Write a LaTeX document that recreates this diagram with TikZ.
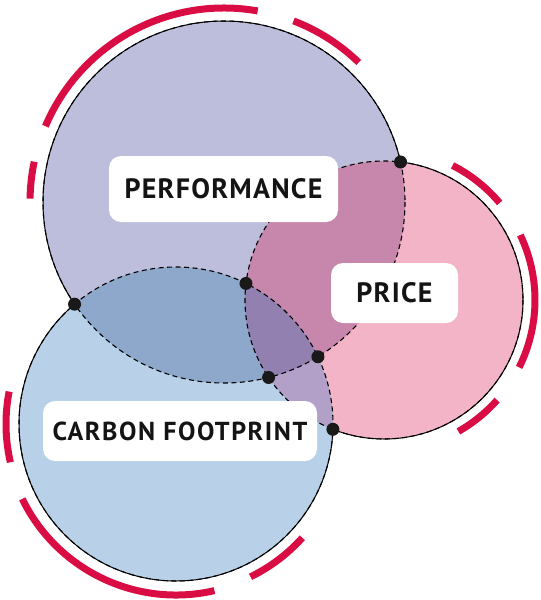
\documentclass[tikz,border=0pt]{standalone}
\usepackage{fontspec}
\setmainfont{PT Sans}
\usetikzlibrary{intersections}
\definecolor{cP}{RGB}{189,190,219}
\definecolor{cR}{RGB}{243,180,199}
\definecolor{cC}{RGB}{185,209,232}
\definecolor{cPR}{RGB}{199,134,171}
\definecolor{cPC}{RGB}{142,168,204}
\definecolor{cRC}{RGB}{178,160,200}
\definecolor{cPRC}{RGB}{145,128,176}
\definecolor{cred}{RGB}{218,12,68}
\definecolor{ctext}{RGB}{20,20,20}
\tikzset{
  labelbox/.style={fill=white, rounded corners=12pt, inner sep=0pt, text=ctext, font=\bfseries\fontsize{28}{28}\selectfont\addfontfeature{LetterSpace=4.5}},
  outline/.style={line width=1pt, black},
  inner/.style={line width=1.1pt, black, dash pattern=on 5pt off 3.5pt},
  redarc/.style={line width=7pt, cred},
  dot/.style={fill=black!90}
}
\def\Pc{(224,202) circle (181)}
\def\Rc{(384,300) circle (139)}
\def\Cc{(176,424) circle (157)}
\begin{document}
\begin{tikzpicture}[x=1pt,y=-1pt]
\useasboundingbox (0,0) rectangle (541,600);
% base fills
\fill[cP] \Pc;
\fill[cR] \Rc;
\fill[cC] \Cc;
\begin{scope}\clip \Pc; \fill[cPR] \Rc; \end{scope}
\begin{scope}\clip \Pc; \fill[cPC] \Cc; \end{scope}
\begin{scope}\clip \Rc; \fill[cRC] \Cc; \end{scope}
\begin{scope}\clip \Pc; \clip \Rc; \fill[cPRC] \Cc; \end{scope}
% dashed inner outlines
\draw[inner, name path=P] \Pc;
\draw[inner, name path=R] \Rc;
\draw[inner, name path=C] \Cc;
% solid outer outlines
\begin{scope}[even odd rule]
  \clip (-10,-10) rectangle (560,620) \Rc;
  \clip (-10,-10) rectangle (560,620) \Cc;
  \draw[outline] \Pc;
\end{scope}
\begin{scope}[even odd rule]
  \clip (-10,-10) rectangle (560,620) \Pc;
  \clip (-10,-10) rectangle (560,620) \Cc;
  \draw[outline] \Rc;
\end{scope}
\begin{scope}[even odd rule]
  \clip (-10,-10) rectangle (560,620) \Pc;
  \clip (-10,-10) rectangle (560,620) \Rc;
  \draw[outline] \Cc;
\end{scope}
% red arcs
\draw[redarc] (224,202) ++(-80:194) arc[start angle=-80, end angle=-157, radius=194];
\draw[redarc] (224,202) ++(-69:194) arc[start angle=-69, end angle=-46, radius=194];
\draw[redarc] (224,202) ++(-168:194) arc[start angle=-168, end angle=-179, radius=194];
\draw[redarc] (384,300) ++(-63:151) arc[start angle=-63, end angle=-40, radius=151];
\draw[redarc] (384,300) ++(-25.5:151) arc[start angle=-25.5, end angle=26.5, radius=151];
\draw[redarc] (384,300) ++(41.5:151) arc[start angle=41.5, end angle=60.5, radius=151];
\draw[redarc] (176,424) ++(167:170) arc[start angle=167, end angle=191, radius=170];
\draw[redarc] (176,424) ++(77:171) arc[start angle=77, end angle=154, radius=171];
\draw[redarc] (176,424) ++(42:170) arc[start angle=42, end angle=64, radius=170];
% intersection dots
\path[name intersections={of=P and R, name=pr}];
\path[name intersections={of=P and C, name=pc}];
\path[name intersections={of=R and C, name=rc}];
\foreach \q in {pr-1,pr-2,pc-1,pc-2,rc-1,rc-2} \fill[dot] (\q) circle (6.5);
% labels
\node[labelbox, minimum width=229pt, minimum height=66pt] (perf) at (223.5,189) {PERFORMANCE};
\node[labelbox, minimum width=127pt, minimum height=60pt] (price) at (394.5,293) {PRICE};
\node[labelbox, minimum width=274pt, minimum height=60pt, font=\bfseries\fontsize{26}{26}\selectfont\addfontfeature{LetterSpace=6}] (carbon) at (180,431) {CARBON FOOTPRINT};
\end{tikzpicture}
\end{document}
